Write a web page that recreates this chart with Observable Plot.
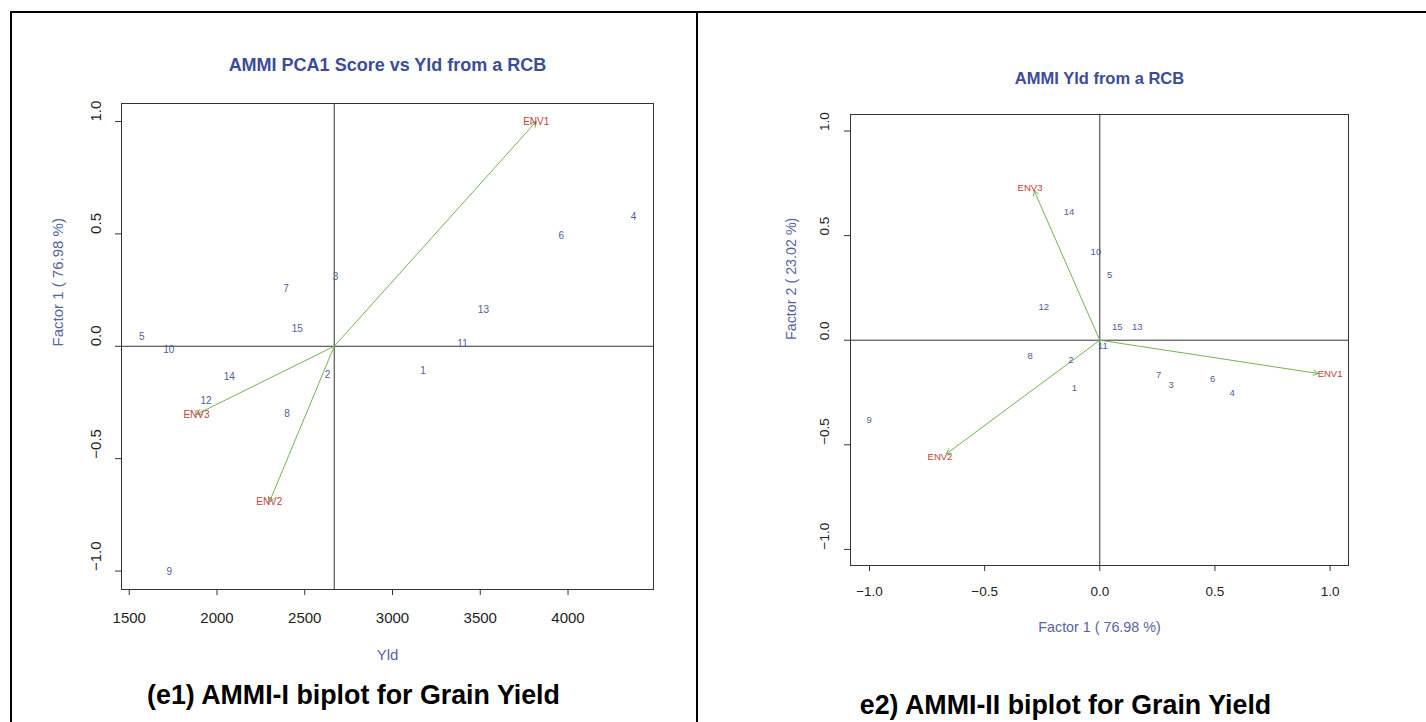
<!DOCTYPE html>
<html>
<head>
<meta charset="utf-8">
<script src="https://cdn.jsdelivr.net/npm/d3@7"></script>
<script src="https://cdn.jsdelivr.net/npm/@observablehq/plot@0.6"></script>
<style>
  html, body { margin: 0; padding: 0; background: #fff; }
  #root { position: relative; width: 1426px; height: 722px; overflow: hidden; font-family: "Liberation Sans", Arial, sans-serif; }
  .line { position: absolute; background: #000; }
  .panel { position: absolute; top: 0; }
  .caption { position: absolute; font-weight: bold; font-size: 26.8px; color: #000; white-space: nowrap; transform: translate(-50%, -50%); line-height: 1; }
</style>
</head>
<body>
<div id="root">
  <div class="line" style="left:10px; top:11px; width:1416px; height:2px;"></div>
  <div class="line" style="left:10px; top:11px; width:2px; height:711px;"></div>
  <div class="line" style="left:696px; top:11px; width:2px; height:711px;"></div>
  <div id="left" class="panel" style="left:0px;"></div>
  <div id="right" class="panel" style="left:698px;"></div>
  <div class="caption" style="left:353.5px; top:695px;">(e1) AMMI-I biplot for Grain Yield</div>
  <div class="caption" style="left:1065.5px; top:705px;">e2) AMMI-II biplot for Grain Yield</div>
</div>
<script>
// ---- data ----
const genotypes = ["1","2","3","4","5","6","7","8","9","10","11","12","13","14","15"];
const yld = [3174, 2630, 2676, 4373, 1572, 3961, 2394, 2399, 1728, 1725, 3399, 1938, 3518, 2070, 2458];
const pc1 = [-0.110, -0.125, 0.310, 0.575, 0.043, 0.490, 0.256, -0.302, -1.002, -0.017, 0.013, -0.243, 0.163, -0.134, 0.076];
const pc2 = [-0.228, -0.096, -0.213, -0.254, 0.313, -0.187, -0.167, -0.076, -0.383, 0.424, -0.028, 0.157, 0.065, 0.613, 0.065];

const envs = ["ENV1", "ENV2", "ENV3"];
const envYld = [3819, 2298, 1883];
const envPC1 = [1.0, -0.694, -0.303];
const envPC2 = [-0.163, -0.557, 0.726];
const envTipPC1 = [0.948, -0.666, -0.285];
const envTipPC2 = [-0.159, -0.543, 0.715];
const meanYld = 2668;

const xTicksLeft = [1500, 2000, 2500, 3000, 3500, 4000];
const xTickLabelsLeft = ["1500", "2000", "2500", "3000", "3500", "4000"];
const unitTicks = [-1, -0.5, 0, 0.5, 1];
const unitTickLabels = ["\u22121.0", "\u22120.5", "0.0", "0.5", "1.0"];

const titleLeft = "AMMI PCA1 Score vs Yld from a RCB";
const titleRight = "AMMI Yld from a RCB";
const xLabelLeft = "Yld";
const yLabelLeft = "Factor 1 ( 76.98 %)";
const xLabelRight = "Factor 1 ( 76.98 %)";
const yLabelRight = "Factor 2 ( 23.02 %)";

// ---- styles ----
const C = {
  title: "#3b4c9a",
  axisLabel: "#56659e",
  geno: "#4f5d98",
  env: "#c4403a",
  arrow: "#72b356",
  ink: "#222"
};
const font = "'Liberation Sans', Arial, Helvetica, sans-serif";

const geno = genotypes.map((g, i) => ({g, yld: yld[i], pc1: pc1[i], pc2: pc2[i]}));
const env = envs.map((e, i) => ({e, yld: envYld[i], pc1: envPC1[i], pc2: envPC2[i], tx: envTipPC1[i], ty: envTipPC2[i]}));

// ---- left panel: AMMI-I ----
const left = Plot.plot({
  width: 697, height: 722,
  marginLeft: 121, marginRight: 44, marginTop: 103, marginBottom: 133,
  style: {fontFamily: font, background: "transparent", overflow: "visible"},
  x: {domain: [1456, 4487]},
  y: {domain: [-1.082, 1.080]},
  marks: [
    Plot.frame({stroke: "#333", strokeWidth: 1}),
    Plot.ruleX([meanYld], {stroke: "#333", strokeWidth: 1}),
    Plot.ruleY([0], {stroke: "#333", strokeWidth: 1}),
    Plot.axisX({ticks: xTicksLeft, tickSize: 6, tickFormat: () => "", label: null, stroke: "#333"}),
    Plot.axisY({ticks: unitTicks, tickSize: 6, tickFormat: () => "", label: null, stroke: "#333"}),
    Plot.text(xTicksLeft, {x: d => d, text: (d, i) => xTickLabelsLeft[i], frameAnchor: "bottom", lineAnchor: "middle", dy: 28.5, fontSize: 15, fill: C.ink}),
    Plot.text(unitTicks, {y: d => d, text: (d, i) => unitTickLabels[i], frameAnchor: "left", lineAnchor: "middle", dx: -25.5, rotate: -90, fontSize: 15, fill: C.ink}),
    Plot.text([titleLeft], {text: d => d, frameAnchor: "top", lineAnchor: "middle", dy: -38.5, fontSize: 18, fontWeight: "bold", fill: C.title}),
    Plot.text([xLabelLeft], {text: d => d, frameAnchor: "bottom", lineAnchor: "middle", dy: 65.5, fontSize: 15, fill: C.axisLabel}),
    Plot.text([yLabelLeft], {text: d => d, frameAnchor: "left", lineAnchor: "middle", dx: -63.5, rotate: -90, fontSize: 15, fill: C.axisLabel}),
    Plot.arrow(env, {x1: () => meanYld, y1: () => 0, x2: "yld", y2: "pc1", stroke: C.arrow, strokeWidth: 1, headLength: 9, headAngle: 60}),
    Plot.text(geno, {x: "yld", y: "pc1", text: "g", fontSize: 10, fill: C.geno}),
    Plot.text(env, {x: "yld", y: "pc1", text: "e", fontSize: 10, fill: C.env})
  ]
});
document.getElementById("left").appendChild(left);

// ---- right panel: AMMI-II ----
const right = Plot.plot({
  width: 728, height: 722,
  marginLeft: 152, marginRight: 78, marginTop: 114, marginBottom: 157,
  style: {fontFamily: font, background: "transparent", overflow: "visible"},
  x: {domain: [-1.0825, 1.080]},
  y: {domain: [-1.077, 1.079]},
  marks: [
    Plot.frame({stroke: "#333", strokeWidth: 1}),
    Plot.ruleX([0], {stroke: "#333", strokeWidth: 1}),
    Plot.ruleY([0], {stroke: "#333", strokeWidth: 1}),
    Plot.axisX({ticks: unitTicks, tickSize: 6, tickFormat: () => "", label: null, stroke: "#333"}),
    Plot.axisY({ticks: unitTicks, tickSize: 6, tickFormat: () => "", label: null, stroke: "#333"}),
    Plot.text(unitTicks, {x: d => d, text: (d, i) => unitTickLabels[i], frameAnchor: "bottom", lineAnchor: "middle", dy: 26, fontSize: 13.5, fill: C.ink}),
    Plot.text(unitTicks, {y: d => d, text: (d, i) => unitTickLabels[i], frameAnchor: "left", lineAnchor: "middle", dx: -26, rotate: -90, fontSize: 13.5, fill: C.ink}),
    Plot.text([titleRight], {text: d => d, frameAnchor: "top", lineAnchor: "middle", dy: -35.4, fontSize: 16.5, fontWeight: "bold", fill: C.title}),
    Plot.text([xLabelRight], {text: d => d, frameAnchor: "bottom", lineAnchor: "middle", dy: 61.5, fontSize: 14.3, fill: C.axisLabel}),
    Plot.text([yLabelRight], {text: d => d, frameAnchor: "left", lineAnchor: "middle", dx: -59, rotate: -90, fontSize: 14.3, fill: C.axisLabel}),
    Plot.arrow(env, {x1: () => 0, y1: () => 0, x2: "tx", y2: "ty", stroke: C.arrow, strokeWidth: 1, headLength: 8, headAngle: 60}),
    Plot.text(geno, {x: "pc1", y: "pc2", text: "g", fontSize: 9.5, fill: C.geno}),
    Plot.text(env, {x: "pc1", y: "pc2", text: "e", fontSize: 9.5, fill: C.env})
  ]
});
document.getElementById("right").appendChild(right);
</script>
</body>
</html>
